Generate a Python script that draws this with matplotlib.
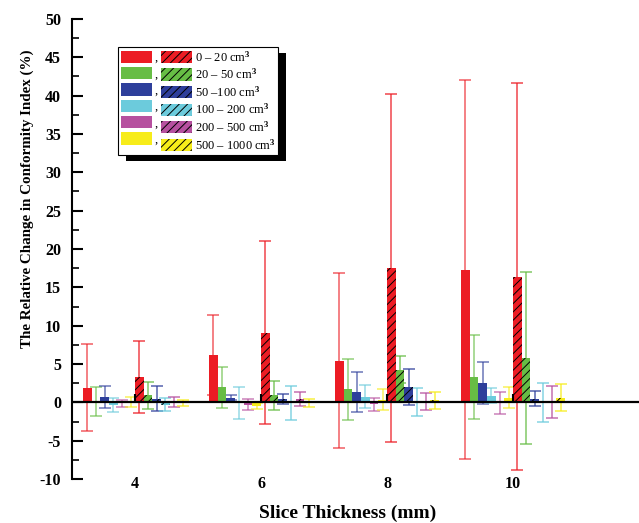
import matplotlib
matplotlib.use("Agg")
import matplotlib.pyplot as plt
import numpy as np
from matplotlib.patches import Patch, Rectangle
from matplotlib.ticker import MultipleLocator

plt.rcParams['font.family'] = ['Liberation Serif', 'DejaVu Serif']
plt.rcParams['font.weight'] = 'bold'
plt.rcParams['hatch.linewidth'] = 0.7
plt.rcParams['axes.unicode_minus'] = False
plt.rcParams['mathtext.fontset'] = 'custom'
plt.rcParams['mathtext.rm'] = 'Liberation Serif'
plt.rcParams['mathtext.it'] = 'Liberation Serif:italic'
plt.rcParams['mathtext.bf'] = 'Liberation Serif:bold'

# ---- data ----
thickness = [4, 6, 8, 10]
ranges = ['0 – 20 cm$^3$', '20 – 50 cm$^3$', '50 –100 cm$^3$', '100 – 200 cm$^3$',
          '200 – 500 cm$^3$', '500 – 1000 cm$^3$']
colors = ['#ec1c24', '#67bd45', '#2e3f9b', '#6ccbdc', '#b6509f', '#f7ec1a']

# solid series (rows: volume range, cols: slice thickness 4,6,8,10)
solid_mean = [
    [1.9, 6.15, 5.45, 17.3],
    [0.1, 1.95, 1.7, 3.3],
    [0.7, 0.6, 1.35, 2.55],
    [-0.3, -0.05, 0.76, 0.87],
    [-0.15, -0.3, -0.28, -0.1],
    [0.05, -0.5, 0.35, 0.63],
]
solid_err = [
    [5.7, 5.2, 11.4, 24.7],
    [1.9, 2.7, 4.0, 5.45],
    [1.45, 0.3, 2.55, 2.75],
    [0.9, 2.07, 1.54, 0.96],
    [0.5, 0.7, 0.8, 1.41],
    [0.65, 0.35, 1.35, 1.33],
]
# hatched series
hatch_mean = [
    [3.3, 9.1, 17.5, 16.4],
    [0.9, 0.9, 4.25, 5.8],
    [0.5, 0.45, 1.95, 0.5],
    [-0.3, -0.1, 0.1, 0.0],
    [0.05, 0.43, 0.1, 0.08],
    [-0.05, -0.1, 0.25, 0.63],
]
hatch_err = [
    [4.7, 11.95, 22.7, 25.2],
    [1.75, 1.9, 1.75, 11.2],
    [1.6, 0.65, 2.35, 0.97],
    [0.85, 2.17, 1.83, 2.5],
    [0.6, 0.87, 1.1, 2.09],
    [0.37, 0.54, 1.13, 1.76],
]

# ---- figure ----
W, H = 639, 523
fig = plt.figure(figsize=(W / 100, H / 100), dpi=100)
ax = fig.add_axes([72 / W, 1 - 479 / H, 1 - 72 / W, (479 - 19) / H])

x = np.array(thickness, dtype=float)
w = 0.138
n = len(colors)
for j in range(n):
    # solid bars
    pos = x + (j - 5.5) * w
    ax.errorbar(pos, solid_mean[j], yerr=solid_err[j], fmt='none',
                ecolor=colors[j], alpha=0.65, elinewidth=1.2, capsize=4.5,
                capthick=1.2, zorder=1)
    ax.bar(pos, solid_mean[j], width=w, color=colors[j], linewidth=0, zorder=2)
    # hatched bars
    pos2 = x + (j + 6 - 5.5) * w
    ax.errorbar(pos2, hatch_mean[j], yerr=hatch_err[j], fmt='none',
                ecolor=colors[j], alpha=0.75, elinewidth=1.2, capsize=4.5,
                capthick=1.2, zorder=1)
    ax.bar(pos2, hatch_mean[j], width=w, color=colors[j], edgecolor='k',
           hatch='////', linewidth=0, zorder=2)

# small black marker at start of hatched group
ax.vlines(x, 0, 1.1, color='k', lw=1.5, zorder=3)
ax.axhline(0, color='k', lw=1.6, zorder=3)

ax.set_xlim(3, 12)
ax.set_ylim(-10, 50)
ax.yaxis.set_major_locator(MultipleLocator(5))
ax.yaxis.set_minor_locator(MultipleLocator(2.5))
ax.set_xticks(thickness)
ax.set_xticklabels([str(t) for t in thickness])
for s in ['top', 'right', 'bottom']:
    ax.spines[s].set_visible(False)
ax.spines['left'].set_linewidth(1.5)
ax.tick_params(axis='y', which='major', direction='in', length=8, width=1.5,
               labelsize=11.5, pad=8)
ax.tick_params(axis='y', which='minor', direction='in', length=5, width=1.2)
ax.tick_params(axis='x', length=0, labelsize=11.5, pad=-2)

fig.text(27 / W, 1 - 199 / H, 'The Relative Change in Conformity Index (%)',
         rotation=90, ha='center', va='center', fontsize=10.8, fontweight='bold')
fig.text(348 / W, 1 - 513 / H, 'Slice Thickness (mm)', ha='center',
         va='center', fontsize=14, fontweight='bold')

# ---- legend ----
solid_h = [Patch(facecolor=c, edgecolor='none', linewidth=0) for c in colors]
hatch_h = [Patch(facecolor=c, edgecolor='k', hatch='////', linewidth=0)
           for c in colors]
leg = ax.legend(solid_h + hatch_h, [','] * n + ranges, ncol=2,
                loc='upper left', bbox_to_anchor=(118 / W, 1 - 47 / H),
                bbox_transform=fig.transFigure,
                prop={'family': 'Liberation Serif', 'weight': 'normal', 'size': 9},
                handlelength=2.55, handleheight=1.12, labelspacing=0.24,
                handletextpad=0.2, columnspacing=0.2, borderpad=0.2,
                borderaxespad=0, fancybox=False, framealpha=1,
                edgecolor='k')
leg.get_frame().set_linewidth(0.8)
leg.set_zorder(6)
fig.canvas.draw()
bb = leg.get_window_extent()
shadow = Rectangle((bb.x0 + 8, bb.y0 - 6), bb.width, bb.height,
                   transform=None, facecolor='k', edgecolor='none',
                   zorder=5.5, clip_on=False)
ax.add_patch(shadow)

fig.savefig('out.png', dpi=100)
